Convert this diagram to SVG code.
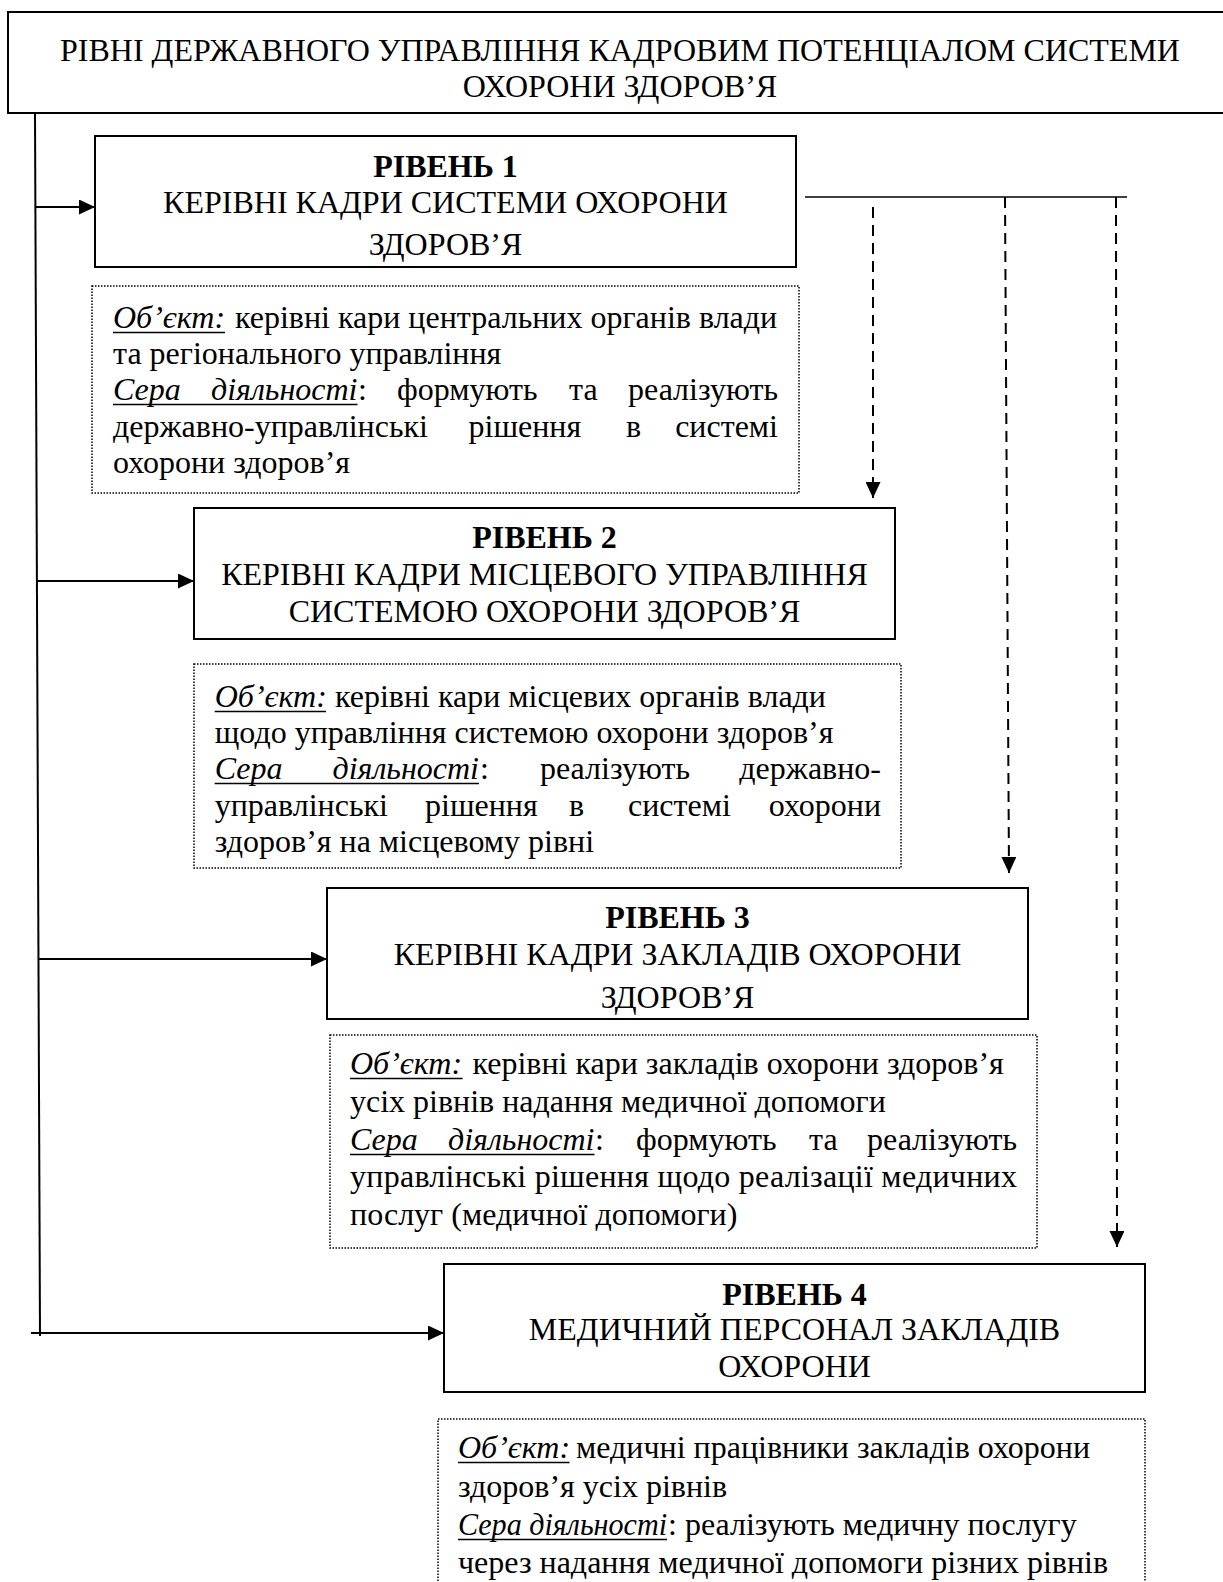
<svg xmlns="http://www.w3.org/2000/svg" width="1223" height="1582" viewBox="0 0 1223 1582">
<defs>
<style>
.t{font-family:"Liberation Serif","Times New Roman",serif;font-size:32px;fill:#000}
.b{font-weight:bold}
.i{font-style:italic}
.c{text-anchor:middle}
.e{text-anchor:end}
.box{fill:none;stroke:#000;stroke-width:2}
.dot{fill:none;stroke:#000;stroke-width:1.5;stroke-dasharray:1.5 1.5}
.ln{fill:none;stroke:#000;stroke-width:2}
.thin{fill:none;stroke:#000;stroke-width:1.5}
.dash{fill:none;stroke:#000;stroke-width:2;stroke-dasharray:11 7}
.ul{stroke:#000;stroke-width:1.5}
</style>
<marker id="ah" viewBox="0 0 16 15" refX="16" refY="7.5" markerWidth="16" markerHeight="15" markerUnits="userSpaceOnUse" orient="auto">
<path d="M0,0 L16,7.5 L0,15 z" fill="#000"/>
</marker>
</defs>
<rect width="1223" height="1582" fill="#fff"/>

<g id="title">
<rect class="box" x="8" y="12" width="1224" height="101"/>
<text class="t c" x="620" y="61">РІВНІ ДЕРЖАВНОГО УПРАВЛІННЯ КАДРОВИМ ПОТЕНЦІАЛОМ СИСТЕМИ</text>
<text class="t c" x="620" y="97">ОХОРОНИ ЗДОРОВ’Я</text>
</g>

<g id="level1">
<rect class="box" x="95" y="136" width="701" height="131"/>
<text class="t b c" x="445.5" y="177">РІВЕНЬ 1</text>
<text class="t c" x="445.5" y="213">КЕРІВНІ КАДРИ СИСТЕМИ ОХОРОНИ</text>
<text class="t c" x="445.5" y="255">ЗДОРОВ’Я</text>
</g>

<g id="note1">
<rect class="dot" x="92" y="286" width="707" height="207"/>
<text class="t i" x="113" y="328">Об’єкт:</text>
<line class="ul" x1="113" y1="332.5" x2="225" y2="332.5"/>
<text class="t" x="235" y="328">керівні кари центральних органів влади</text>
<text class="t" x="113" y="364">та регіонального управління</text>
<text class="t i" x="113" y="400">Сера</text>
<text class="t i e" x="357.5" y="400">діяльності</text>
<line class="ul" x1="113" y1="404.5" x2="357.5" y2="404.5"/>
<text class="t" x="358" y="400">:</text>
<text class="t" x="397" y="400">формують</text>
<text class="t" x="569" y="400">та</text>
<text class="t e" x="778" y="400">реалізують</text>
<text class="t" x="113" y="436.5">державно-управлінські</text>
<text class="t" x="468.5" y="436.5">рішення</text>
<text class="t" x="626" y="436.5">в</text>
<text class="t e" x="778" y="436.5">системі</text>
<text class="t" x="113" y="473">охорони здоров’я</text>
</g>

<g id="level2">
<rect class="box" x="194" y="508" width="701" height="131"/>
<text class="t b c" x="544.5" y="548">РІВЕНЬ 2</text>
<text class="t c" x="544.5" y="585">КЕРІВНІ КАДРИ МІСЦЕВОГО УПРАВЛІННЯ</text>
<text class="t c" x="544.5" y="622">СИСТЕМОЮ ОХОРОНИ ЗДОРОВ’Я</text>
</g>

<g id="note2">
<rect class="dot" x="194" y="664" width="707" height="204"/>
<text class="t i" x="214.7" y="707">Об’єкт:</text>
<line class="ul" x1="214.7" y1="711.5" x2="326" y2="711.5"/>
<text class="t" x="335" y="707">керівні кари місцевих органів влади</text>
<text class="t" x="214.7" y="743">щодо управління системою охорони здоров’я</text>
<text class="t i" x="214.7" y="779">Сера</text>
<text class="t i e" x="479" y="779">діяльності</text>
<line class="ul" x1="214.7" y1="783.5" x2="479" y2="783.5"/>
<text class="t" x="480" y="779">:</text>
<text class="t" x="540" y="779">реалізують</text>
<text class="t e" x="881" y="779">державно-</text>
<text class="t" x="214.7" y="816">управлінські</text>
<text class="t" x="425" y="816">рішення</text>
<text class="t" x="569" y="816">в</text>
<text class="t" x="628" y="816">системі</text>
<text class="t e" x="881" y="816">охорони</text>
<text class="t" x="214.7" y="852">здоров’я на місцевому рівні</text>
</g>

<g id="level3">
<rect class="box" x="327" y="888" width="701" height="131"/>
<text class="t b c" x="677.5" y="928">РІВЕНЬ 3</text>
<text class="t c" x="677.5" y="965">КЕРІВНІ КАДРИ ЗАКЛАДІВ ОХОРОНИ</text>
<text class="t c" x="677.5" y="1008">ЗДОРОВ’Я</text>
</g>

<g id="note3">
<rect class="dot" x="330" y="1035" width="707" height="213"/>
<text class="t i" x="350" y="1074">Об’єкт:</text>
<line class="ul" x1="350" y1="1078.5" x2="462.6" y2="1078.5"/>
<text class="t" x="472.5" y="1074">керівні кари закладів охорони здоров’я</text>
<text class="t" x="350" y="1112">усіх рівнів надання медичної допомоги</text>
<text class="t i" x="350" y="1150">Сера</text>
<text class="t i e" x="594.5" y="1150">діяльності</text>
<line class="ul" x1="350" y1="1154.5" x2="594.5" y2="1154.5"/>
<text class="t" x="595" y="1150">:</text>
<text class="t" x="636" y="1150">формують</text>
<text class="t" x="809" y="1150">та</text>
<text class="t e" x="1017" y="1150">реалізують</text>
<text class="t" x="350" y="1187" textLength="667" lengthAdjust="spacing">управлінські рішення щодо реалізації медичних</text>
<text class="t" x="350" y="1225">послуг (медичної допомоги)</text>
</g>

<g id="level4">
<rect class="box" x="444" y="1264" width="701" height="128"/>
<text class="t b c" x="794.5" y="1305">РІВЕНЬ 4</text>
<text class="t c" x="794.5" y="1340">МЕДИЧНИЙ ПЕРСОНАЛ ЗАКЛАДІВ</text>
<text class="t c" x="794.5" y="1377">ОХОРОНИ</text>
</g>

<g id="note4">
<rect class="dot" x="438" y="1419" width="707" height="175"/>
<text class="t i" x="458" y="1458">Об’єкт:</text>
<line class="ul" x1="458" y1="1462.5" x2="569.5" y2="1462.5"/>
<text class="t" x="576" y="1458">медичні працівники закладів охорони</text>
<text class="t" x="458" y="1497">здоров’я усіх рівнів</text>
<text class="t i" x="458" y="1535" textLength="209" lengthAdjust="spacingAndGlyphs">Сера діяльності</text>
<line class="ul" x1="458" y1="1539.5" x2="667" y2="1539.5"/>
<text class="t" x="668" y="1535">: реалізують медичну послугу</text>
<text class="t" x="458" y="1573">через надання медичної допомоги різних рівнів</text>
</g>

<g id="connectors">
<line class="ln" x1="35" y1="113" x2="40" y2="1336"/>
<line class="ln" x1="35" y1="207" x2="95" y2="207" marker-end="url(#ah)"/>
<line class="ln" x1="36.5" y1="581" x2="194" y2="581" marker-end="url(#ah)"/>
<line class="ln" x1="38.5" y1="959" x2="327" y2="959" marker-end="url(#ah)"/>
<line class="ln" x1="31" y1="1333" x2="444" y2="1333" marker-end="url(#ah)"/>
<line class="thin" x1="805" y1="197" x2="1127" y2="197"/>
<line class="dash" x1="873" y1="207" x2="873" y2="498" marker-end="url(#ah)"/>
<line class="dash" x1="1005" y1="197" x2="1009" y2="873" marker-end="url(#ah)"/>
<line class="dash" x1="1116" y1="197" x2="1117" y2="1247" marker-end="url(#ah)"/>
</g>
</svg>
